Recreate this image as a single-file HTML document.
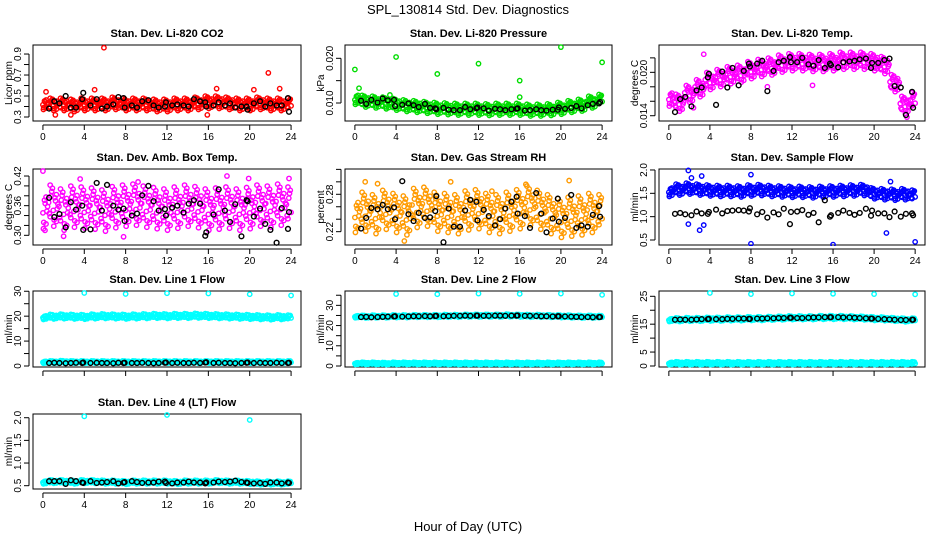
<!DOCTYPE html>
<html><head><meta charset="utf-8">
<style>
html,body{margin:0;padding:0;background:#fff;}
svg{display:block;font-family:"Liberation Sans",sans-serif;}
</style></head>
<body>
<svg id="chart" width="936" height="540" viewBox="0 0 936 540" xmlns="http://www.w3.org/2000/svg">
<text x="468" y="14" text-anchor="middle" font-size="13">SPL_130814  Std. Dev. Diagnostics</text>
<text x="468" y="531" text-anchor="middle" font-size="13">Hour of Day (UTC)</text>
</svg>
<script>
// ---- shared data ----
const blackHours = [0.6,1.1,1.6,2.2,2.7,3.2,3.8,3.9,4.6,5.2,5.7,6.2,6.8,7.3,7.8,7.9,8.6,9.1,9.6,10.2,10.7,11.2,11.8,11.9,12.5,13.0,13.6,14.1,14.6,15.2,15.7,15.8,16.5,17.0,17.6,18.1,18.6,19.2,19.7,19.8,20.4,21.0,21.5,22.0,22.6,23.1,23.7,23.8];
const cloudHours = [0,1,2,3,4,5,6,7,8,9,10,11,12,13,14,15,16,17,18,19,20,21,22,23,24];
const xTicks = [0,4,8,12,16,20,24];

// ---- per-panel series ----
const co2Black = [0.38,0.45,0.43,0.50,0.39,0.39,0.47,0.53,0.41,0.47,0.38,0.40,0.42,0.49,0.48,0.39,0.41,0.39,0.45,0.46,0.41,0.39,0.40,0.44,0.41,0.42,0.41,0.40,0.47,0.45,0.44,0.40,0.41,0.44,0.41,0.43,0.39,0.40,0.40,0.37,0.43,0.45,0.40,0.43,0.41,0.41,0.48,0.35];
const co2Cloud = [0.43,0.42,0.42,0.41,0.42,0.42,0.42,0.43,0.42,0.42,0.42,0.41,0.41,0.42,0.42,0.43,0.44,0.44,0.43,0.42,0.42,0.43,0.42,0.42,0.42];
const co2Outliers = [[5.9,0.96],[21.8,0.72],[1.2,0.32],[2.7,0.32],[15.9,0.32],[0.3,0.54],[5,0.56],[22.9,0.57],[20.4,0.56],[16.8,0.57]];

const presBlack = [0.0105,0.0098,0.0107,0.0101,0.0110,0.0106,0.0107,0.0093,0.0096,0.0099,0.0095,0.0091,0.0098,0.0089,0.0088,0.0086,0.0089,0.0085,0.0084,0.0084,0.0091,0.0086,0.0088,0.0090,0.0088,0.0083,0.0087,0.0086,0.0084,0.0086,0.0087,0.0088,0.0083,0.0084,0.0086,0.0084,0.0083,0.0085,0.0085,0.0090,0.0087,0.0089,0.0093,0.0088,0.0095,0.0098,0.0099,0.0102];
const presCloud = [0.0110,0.0104,0.0102,0.0100,0.0097,0.0094,0.0092,0.0090,0.0088,0.0087,0.0086,0.0086,0.0086,0.0085,0.0086,0.0086,0.0086,0.0084,0.0084,0.0085,0.0088,0.0092,0.0095,0.0102,0.0106];
const presOutliers = [[0,0.0175],[4,0.0203],[8,0.0165],[12,0.0188],[16,0.0150],[20,0.0225],[24,0.0191],[0.4,0.0133],[16,0.0113],[3.4,0.0118]];

const tempBlack = [0.0145,0.0163,0.0166,0.0153,0.0175,0.0179,0.0193,0.0198,0.0155,0.0201,0.0179,0.0206,0.0182,0.0202,0.0212,0.0208,0.0212,0.0216,0.0174,0.0202,0.0214,0.0216,0.0221,0.0214,0.0214,0.0220,0.0211,0.0209,0.0217,0.0206,0.0212,0.0210,0.0207,0.0214,0.0215,0.0216,0.0218,0.0219,0.0206,0.0213,0.0213,0.0217,0.0219,0.0181,0.0179,0.0141,0.0173,0.0151];
const tempCloud = [0.0165,0.0158,0.0170,0.0178,0.0188,0.0192,0.0196,0.0198,0.0203,0.0206,0.0208,0.0212,0.0214,0.0214,0.0213,0.0213,0.0214,0.0216,0.0216,0.0216,0.0214,0.0210,0.0185,0.0155,0.0160];
const tempOutliers = [[3.4,0.0225],[9.6,0.0180],[14,0.0182],[23.2,0.0138],[2.4,0.0151]];

const ambBlack = [0.376,0.337,0.343,0.316,0.367,0.352,0.360,0.311,0.312,0.406,0.350,0.402,0.360,0.352,0.354,0.329,0.340,0.344,0.381,0.400,0.369,0.350,0.353,0.340,0.356,0.360,0.346,0.364,0.371,0.364,0.299,0.306,0.342,0.393,0.350,0.327,0.363,0.298,0.371,0.369,0.338,0.354,0.323,0.311,0.285,0.355,0.313,0.347];
const ambCloud = [0.355,0.360,0.352,0.358,0.356,0.354,0.350,0.357,0.360,0.362,0.358,0.355,0.352,0.356,0.360,0.357,0.352,0.354,0.356,0.352,0.355,0.360,0.358,0.362,0.356];
const ambOutliers = [[0,0.43],[0.2,0.31],[17.8,0.42],[2,0.298],[7.8,0.297],[19.9,0.415],[23.8,0.415],[3.6,0.414],[9.2,0.408]];

const rhBlack = [0.225,0.242,0.258,0.256,0.263,0.256,0.259,0.240,0.301,0.248,0.237,0.250,0.242,0.243,0.253,0.277,0.203,0.257,0.228,0.228,0.254,0.271,0.268,0.238,0.255,0.245,0.230,0.240,0.257,0.268,0.276,0.249,0.245,0.226,0.282,0.249,0.219,0.241,0.273,0.236,0.242,0.279,0.226,0.230,0.228,0.247,0.261,0.244];
const rhCloud = [0.250,0.252,0.248,0.255,0.250,0.246,0.258,0.260,0.252,0.250,0.248,0.254,0.256,0.250,0.248,0.252,0.256,0.262,0.255,0.248,0.242,0.244,0.246,0.250,0.248];
const rhOutliers = [[1,0.300],[2.2,0.297],[9.3,0.300],[20.8,0.302],[4.8,0.205],[16.6,0.296],[13.3,0.285]];

const flowBlack = [1.06,1.08,1.05,1.03,1.11,1.07,1.06,1.10,1.15,1.07,1.12,1.13,1.14,1.13,1.11,1.18,1.05,1.10,0.98,1.09,1.05,1.17,0.84,1.10,1.11,1.14,1.04,1.08,0.88,1.35,1.00,1.03,1.08,1.13,1.08,1.04,1.08,1.17,1.02,1.13,1.07,1.07,0.99,1.11,1.00,1.06,1.07,1.03];
const flowCloud = [1.55,1.58,1.60,1.58,1.56,1.55,1.55,1.54,1.56,1.57,1.55,1.54,1.53,1.53,1.52,1.53,1.54,1.55,1.56,1.57,1.50,1.48,1.47,1.48,1.45];
const flowOutliers = [[1.9,1.99],[1.9,0.84],[3,0.71],[3.4,0.82],[3.2,1.87],[8,0.42],[8,1.9],[16,0.40],[21.2,0.65],[24,0.46],[21.6,1.75],[2.2,1.83]];

const line1Black = [1.2,1.3,1.2,1.1,1.2,1.3,1.2,1.4,1.2,1.3,1.2,1.2,1.1,1.3,1.2,1.3,1.2,1.2,1.3,1.2,1.1,1.2,1.3,1.4,1.2,1.3,1.2,1.2,1.3,1.2,1.4,1.5,1.2,1.3,1.2,1.2,1.1,1.2,1.3,1.4,1.2,1.3,1.2,1.2,1.3,1.2,1.2,1.3];
const line1Hi = [19.6,19.8,19.9,19.8,19.7,19.9,20.0,19.9,19.8,19.9,20.0,20.1,20.0,20.1,20.1,20.2,20.1,20.0,19.9,19.8,19.7,19.6,19.5,19.6,19.5];
const line1Lo = [1.6,1.6,1.7,1.6,1.6,1.6,1.6,1.6,1.6,1.6,1.6,1.6,1.6,1.6,1.6,1.6,1.6,1.6,1.6,1.6,1.6,1.6,1.6,1.6,1.6];
const line1Outliers = [[4,29.3],[8,28.9],[12,29.2],[16,29.1],[20,28.8],[24,28.3]];

const line2Black = [24.2,24.3,24.1,24.2,24.3,24.4,24.5,24.6,24.4,24.5,24.6,24.6,24.7,24.6,24.7,24.8,24.6,24.7,24.8,24.8,24.9,24.8,24.9,24.9,24.8,24.8,24.9,24.9,24.8,24.9,24.9,25.0,24.8,24.8,24.7,24.6,24.6,24.5,24.6,24.6,24.5,24.4,24.3,24.2,24.2,24.1,24.2,24.2];
const line2Hi = [24.5,24.4,24.5,24.5,24.6,24.6,24.7,24.7,24.7,24.8,24.8,24.9,24.9,24.9,24.9,25.0,24.9,24.8,24.8,24.7,24.6,24.5,24.4,24.4,24.3];
const line2Lo = [1.3,1.3,1.3,1.2,1.3,1.3,1.3,1.3,1.3,1.3,1.3,1.3,1.3,1.3,1.3,1.3,1.3,1.3,1.3,1.3,1.3,1.3,1.3,1.3,1.3];
const line2Outliers = [[4,35.6],[8,35.5],[12,35.8],[16,35.7],[20,35.8],[24,35.2]];

const line3Black = [16.6,16.7,16.6,16.6,16.7,16.8,16.8,16.9,16.8,16.8,16.9,16.9,17.0,17.0,16.9,16.9,17.0,17.0,17.1,17.1,17.2,17.2,17.3,17.3,17.2,17.2,17.3,17.4,17.4,17.5,17.5,17.5,17.5,17.4,17.4,17.3,17.2,17.1,17.0,17.0,16.9,16.8,16.7,16.6,16.5,16.5,16.6,16.6];
const line3Hi = [16.6,16.6,16.7,16.7,16.8,16.8,16.9,16.9,17.0,17.0,17.1,17.2,17.3,17.3,17.3,17.4,17.4,17.4,17.3,17.2,17.0,16.9,16.7,16.5,16.5];
const line3Lo = [1.0,1.0,1.0,1.0,1.0,1.0,1.0,1.0,1.0,1.0,1.0,1.0,1.0,1.0,1.0,1.0,1.0,1.0,1.0,1.0,1.0,1.0,1.0,1.0,1.0];
const line3Outliers = [[4,26.2],[8,25.8],[12,26.0],[16,25.9],[20,25.8],[24,25.7]];

const line4Black = [0.60,0.60,0.60,0.54,0.62,0.60,0.57,0.56,0.60,0.56,0.57,0.58,0.60,0.55,0.57,0.58,0.60,0.58,0.56,0.57,0.57,0.59,0.59,0.56,0.55,0.57,0.57,0.59,0.57,0.57,0.55,0.57,0.57,0.59,0.58,0.59,0.61,0.58,0.57,0.56,0.55,0.56,0.54,0.57,0.57,0.55,0.57,0.56];
const line4Cloud = [0.58,0.59,0.59,0.58,0.59,0.59,0.58,0.58,0.57,0.58,0.58,0.58,0.58,0.57,0.58,0.58,0.58,0.59,0.58,0.58,0.57,0.56,0.56,0.56,0.56];
const line4Outliers = [[4,2.03],[12,2.06],[20,1.95]];

// fixed cloud marker pattern (style, not data)
const DX = [-0.45,-0.3,-0.15,0,0.15,0.3,0.45,-0.38,-0.22,-0.08,0.08,0.22,0.38,-0.3,0.05,0.3];
const DY = [0.2,-0.7,0.9,-0.3,0.5,-1,0.1,-0.5,0.6,1.1,-0.9,0.3,-0.2,1.3,-1.3,0.7];

const COLS = [[33,301],[345,612],[659,925]];
const ROWS = [[45,121],[169,245],[291,367],[414,489]];

const panels = [
 {name:'co2',title:'Stan. Dev. Li-820 CO2',ylab:'Licor ppm',c:0,r:0,ylim:[0.262,0.986],ticks:[0.3,0.4,0.5,0.6,0.7,0.8,0.9],labels:['0.3','0.5','0.7','0.9'],col:'#ff0000',black:co2Black,clouds:[[co2Cloud,0.045]],out:co2Outliers,xl:true},
 {name:'pressure',title:'Stan. Dev. Li-820 Pressure',ylab:'kPa',c:1,r:0,ylim:[0.00597,0.02298],ticks:[0.010,0.015,0.020],labels:['0.010','0.020'],col:'#00dd00',black:presBlack,clouds:[[presCloud,0.0010]],out:presOutliers,xl:true},
 {name:'temp',title:'Stan. Dev. Li-820 Temp.',ylab:'degrees C',c:2,r:0,ylim:[0.01327,0.02378],ticks:[0.014,0.016,0.018,0.020,0.022],labels:['0.014','0.020'],col:'#ff00ff',black:tempBlack,clouds:[[tempCloud,0.0009]],out:tempOutliers,xl:true},
 {name:'amb-box-temp',title:'Stan. Dev. Amb. Box Temp.',ylab:'degrees C',c:0,r:1,ylim:[0.2804,0.4342],ticks:[0.30,0.32,0.34,0.36,0.38,0.40,0.42],labels:['0.30','0.36','0.42'],col:'#ff00ff',black:ambBlack,clouds:[[ambCloud,0.032]],out:ambOutliers,xl:true},
 {name:'gas-rh',title:'Stan. Dev. Gas Stream RH',ylab:'percent',c:1,r:1,ylim:[0.1986,0.3206],ticks:[0.22,0.24,0.26,0.28,0.30,0.32],labels:['0.22','0.28'],col:'#ff9a00',black:rhBlack,clouds:[[rhCloud,0.024]],out:rhOutliers,xl:true},
 {name:'sample-flow',title:'Stan. Dev. Sample Flow',ylab:'ml/min',c:2,r:1,ylim:[0.393,2.021],ticks:[0.5,1.0,1.5,2.0],labels:['0.5','1.0','1.5','2.0'],col:'#0000ff',black:flowBlack,clouds:[[flowCloud,0.09]],out:flowOutliers,xl:true},
 {name:'line1-flow',title:'Stan. Dev. Line 1 Flow',ylab:'ml/min',c:0,r:2,ylim:[-0.4,30.1],ticks:[0,5,10,15,20,25,30],labels:['0','10','20','30'],col:'#00ffff',black:line1Black,clouds:[[line1Hi,0.7],[line1Lo,0.35]],out:line1Outliers,xl:false},
 {name:'line2-flow',title:'Stan. Dev. Line 2 Flow',ylab:'ml/min',c:1,r:2,ylim:[-0.5,37.1],ticks:[0,5,10,15,20,25,30,35],labels:['0','10','20','30'],col:'#00ffff',black:line2Black,clouds:[[line2Hi,0.5],[line2Lo,0.4]],out:line2Outliers,xl:false},
 {name:'line3-flow',title:'Stan. Dev. Line 3 Flow',ylab:'ml/min',c:2,r:2,ylim:[-0.36,26.9],ticks:[0,5,10,15,20,25],labels:['0','5','15','25'],col:'#00ffff',black:line3Black,clouds:[[line3Hi,0.5],[line3Lo,0.4]],out:line3Outliers,xl:false},
 {name:'line4-flow',title:'Stan. Dev. Line 4 (LT) Flow',ylab:'ml/min',c:0,r:3,ylim:[0.427,2.082],ticks:[0.5,1.0,1.5,2.0],labels:['0.5','1.0','1.5','2.0'],col:'#00ffff',black:line4Black,clouds:[[line4Cloud,0.03]],out:line4Outliers,xl:true}
];

const NS='http://www.w3.org/2000/svg';
const svg=document.getElementById('chart');
function mk(tag,attrs,parent){const e=document.createElementNS(NS,tag);for(const k in attrs)e.setAttribute(k,attrs[k]);(parent||svg).appendChild(e);return e;}

panels.forEach((p,pi)=>{
  const [x0,x1]=COLS[p.c],[y0,y1]=ROWS[p.r];
  const xs=h=>x0+(h+0.96)/(25.92)*(x1-x0);
  const ys=v=>y1-(v-p.ylim[0])/(p.ylim[1]-p.ylim[0])*(y1-y0);
  const g=mk('g',{});
  
  
  const cp=mk('clipPath',{id:'clip'+pi},g);
  mk('rect',{x:x0,y:y0-3,width:x1-x0,height:y1-y0+4},cp);
  const t=mk('text',{x:(x0+x1)/2,y:y0-8,'text-anchor':'middle','font-size':'11','font-weight':'bold'},g);
  t.textContent=p.title;
  
  
  const yl=mk('text',{x:0,y:0,'text-anchor':'middle','font-size':'10',transform:`translate(${x0-21},${(y0+y1)/2}) rotate(-90)`},g);
  yl.textContent=p.ylab;
  
  
  const ya=mk('g',{stroke:'#000','stroke-width':'1'},g);
  
  
  mk('line',{x1:x0-4,x2:x0-4,y1:ys(p.ticks[0]),y2:ys(p.ticks[p.ticks.length-1])},ya);
  p.ticks.forEach(v=>mk('line',{x1:x0-9,x2:x0-4,y1:ys(v),y2:ys(v)},ya));
  p.labels.forEach(l=>{const v=parseFloat(l);const tt=mk('text',{x:0,y:0,'text-anchor':'middle','font-size':'10',stroke:'none',fill:'#000',transform:`translate(${x0-12},${ys(v)}) rotate(-90)`},ya);tt.textContent=l;
    
    });
  const xa=mk('g',{stroke:'#000','stroke-width':'1'},g);
  
  
  mk('line',{x1:xs(0),x2:xs(24),y1:y1+4,y2:y1+4},xa);
  xTicks.forEach(h=>{mk('line',{x1:xs(h),x2:xs(h),y1:y1+4,y2:y1+9},xa);
    if(p.xl){const tt=mk('text',{x:xs(h),y:y1+19,'text-anchor':'middle','font-size':'10',stroke:'none',fill:'#000'},xa);tt.textContent=h;
      
      }});
  mk('rect',{x:x0,y:y0,width:x1-x0,height:y1-y0,fill:'none',stroke:'#000','stroke-width':'1'},g);
  const mg=mk('g',{'clip-path':`url(#clip${pi})`,fill:'none','stroke-width':'1.4'},g);
  p.clouds.forEach(([arr,sp])=>{
    arr.forEach((v,i)=>{
      DX.forEach((dx,k)=>{
        let h=cloudHours[i]+dx; if(h<0||h>24)return;
        const c=mk('circle',{cx:xs(h),cy:ys(v+DY[k]*sp),r:2.2,stroke:p.col},mg);
        
        
      });
    });
  });
  p.out.forEach(([h,v])=>{const c=mk('circle',{cx:xs(h),cy:ys(v),r:2.2,stroke:p.col},mg);
    
    });
  p.black.forEach((v,i)=>{const c=mk('circle',{cx:xs(blackHours[i]),cy:ys(v),r:2.4,stroke:'#000'},mg);
    
    });
});
</script>
</body></html>
